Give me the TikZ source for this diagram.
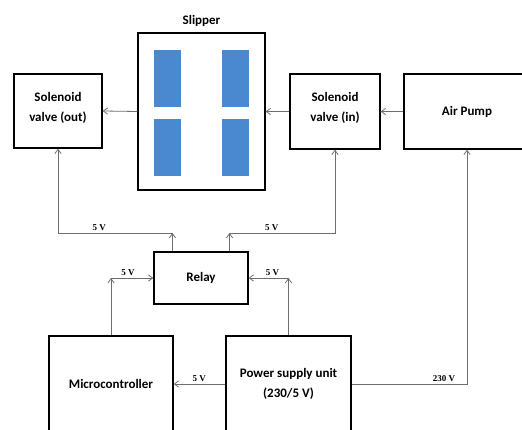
\documentclass[tikz,border=0pt]{standalone}
\usepackage{fontspec}
\setmainfont{Carlito}
\newfontfamily\voltfont{Liberation Serif}
\usetikzlibrary{arrows.meta,positioning,calc}
\definecolor{padblue}{HTML}{4A89CF}
\definecolor{wiregray}{HTML}{6E6E6E}

\begin{document}
\begin{tikzpicture}[x=1pt, y=-1pt, font=\bfseries\fontsize{13}{20}\selectfont,
  blk/.style={draw, line width=1.3pt, align=center, inner sep=2pt},
  pad/.style={fill=padblue, minimum width=27pt, minimum height=57pt, inner sep=0pt},
  arr/.style={-{Straight Barb[length=1.5mm, width=2.2mm]}, wiregray, line width=0.8pt},
  lbl/.style={font=\voltfont\bfseries\fontsize{9}{10}\selectfont, text=black, inner sep=2pt}]
\useasboundingbox (0,0) rectangle (522,430);
\clip (0,0) rectangle (522,430);
% top row
\node[blk, minimum width=127pt, minimum height=157pt] (slip) at (201.5,111.5) {};
\node[above=2pt of slip] (sliplbl) {Slipper};
\node[pad] (p1) at (167.5,78.5) {};
\node[pad] (p2) at (235.5,78.5) {};
\node[pad] (p3) at (167.5,147.5) {};
\node[pad] (p4) at (235.5,147.5) {};
\node[blk, minimum width=88pt, minimum height=74pt, text depth=9pt] (solout) at (58,111) {Solenoid\\valve (out)};
\node[blk, minimum width=90pt, minimum height=75pt, text depth=9pt] (solin) at (335,111.5) {Solenoid\\valve (in)};
\node[blk, minimum width=126pt, minimum height=75pt] (pump) at (467,111.5) {Air Pump};
% middle and bottom
\node[blk, minimum width=94pt, minimum height=52pt] (relay) at (201,278) {Relay};
\node[blk, minimum width=124pt, minimum height=96pt] (mcu) at (111,384) {Microcontroller};
\node[blk, line width=2pt, minimum width=125pt, minimum height=96pt] (psu) at (288.5,384) {Power supply unit\\(230/5 V)};
% wiring
\draw[arr] (slip.west) -- (solout.east);
\draw[arr] (solin.west) -- (slip.east);
\draw[arr] (pump.west) -- (solin.east);
\coordinate (rl) at ($(relay.north west)!0.2!(relay.north east)$);
\coordinate (rr) at ($(relay.north west)!0.8!(relay.north east)$);
\coordinate (tl) at (rl |- 0,233);
\coordinate (tr) at (rr |- 0,233);
\draw[arr] (rl) -- (tl);
\draw[arr] (tl) -| (solout.south) node[lbl, above, pos=0.32] {5 V};
\draw[arr] (rr) -- (tr);
\draw[arr] (tr) -| (solin.south) node[lbl, above, pos=0.2] {5 V};
\coordinate (ml) at (mcu.north |- relay.west);
\coordinate (mr) at (psu.north |- relay.east);
\draw[arr] (mcu.north) -- (ml);
\draw[arr] (ml) -- (relay.west) node[lbl, above, pos=0.4] {5 V};
\draw[arr] (psu.north) -- (mr);
\draw[arr] (mr) -- (relay.east) node[lbl, above, pos=0.4] {5 V};
\draw[arr] (psu.west) -- (mcu.east) node[lbl, above, midway] {5 V};
\draw[arr] (psu.east) -| (pump.south) node[lbl, above, pos=0.4] {230 V};
\end{tikzpicture}
\end{document}
